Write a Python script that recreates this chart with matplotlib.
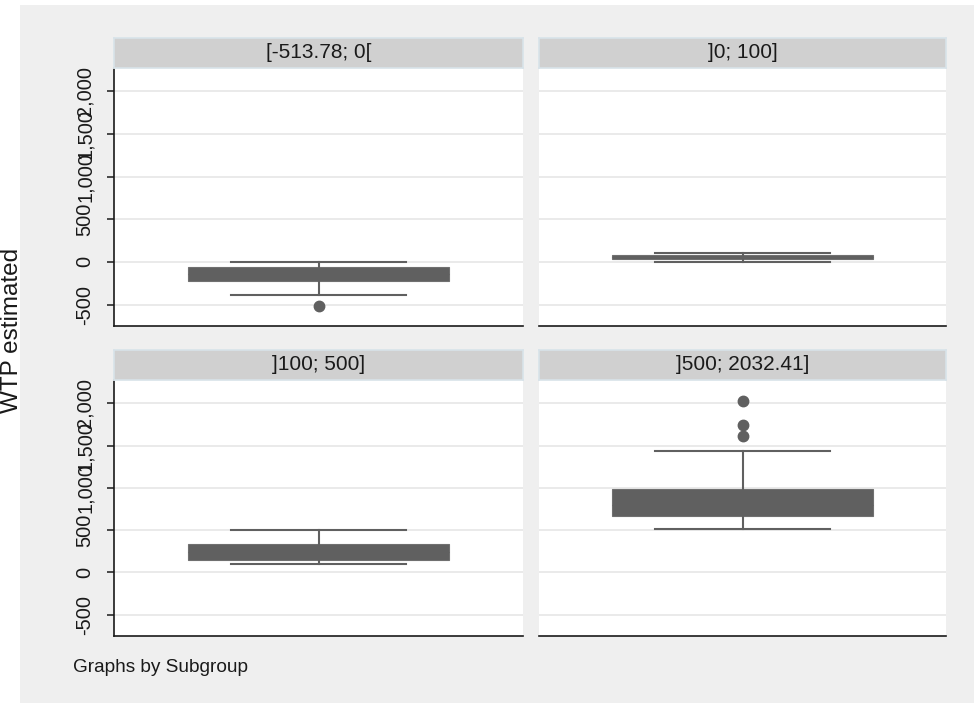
import matplotlib
matplotlib.use("Agg")
import matplotlib.pyplot as plt
from matplotlib.patches import Rectangle

plt.rcParams['font.family'] = ['Liberation Sans', 'DejaVu Sans']

# box plot summaries, one entry per subgroup
panel_titles = ['[-513.78; 0[', ']0; 100]', ']100; 500]', ']500; 2032.41]']
whisker_low = [-386, 1, 100, 508]
q1 = [-222, 38, 141, 661]
median = [-140, 55, 240, 800]
q3 = [-59, 80, 340, 990]
whisker_high = [-1, 99, 498, 1440]
outliers = [[-513.78], [], [], [1608, 1745, 2032.41]]

y_ticks = [-500, 0, 500, 1000, 1500, 2000]
y_tick_labels = ['-500', '0', '500', '1,000', '1,500', '2,000']

W, H = 974, 703
fig = plt.figure(figsize=(W / 100, H / 100), dpi=100, facecolor='white')

# grey background region (white strip left and top)
fig.patches.append(Rectangle((20 / W, 0), 1 - 20 / W, 1 - 5 / H,
                             transform=fig.transFigure, facecolor='#efefef',
                             edgecolor='none', zorder=-10))

box_col = '#606060'

# panel boxes in pixels: (x0, x1, y_top, y_bottom)
cols = [(114, 523), (539, 946)]
rows = [(68, 326), (380, 636)]

for i in range(4):
    r, c = divmod(i, 2)
    x0, x1 = cols[c]
    yt, yb = rows[r]
    ax = fig.add_axes([x0 / W, 1 - yb / H, (x1 - x0) / W, (yb - yt) / H])
    ax.set_facecolor('white')

    stats = [dict(whislo=whisker_low[i], q1=q1[i], med=median[i], q3=q3[i],
                  whishi=whisker_high[i], fliers=outliers[i])]
    ax.bxp(stats, positions=[0.5], widths=0.64, capwidths=0.43,
           patch_artist=True, showfliers=True,
           boxprops=dict(facecolor=box_col, edgecolor='#707070', linewidth=0.8),
           medianprops=dict(color=box_col, linewidth=0.8),
           whiskerprops=dict(color=box_col, linewidth=1.5),
           capprops=dict(color=box_col, linewidth=1.5),
           flierprops=dict(marker='o', markerfacecolor=box_col,
                           markeredgecolor=box_col, markersize=7.5))

    ax.set_xlim(0, 1)
    ax.set_ylim(-752, 2275)
    ax.set_xticks([])
    ax.set_yticks(y_ticks)
    ax.grid(axis='y', color='#e6e6e6', linewidth=1.2)
    ax.set_axisbelow(True)
    for s in ['top', 'right']:
        ax.spines[s].set_visible(False)
    ax.spines['bottom'].set_color('#1a1a1a')
    ax.spines['bottom'].set_linewidth(1.2)
    if c == 0:
        ax.spines['left'].set_color('#1a1a1a')
        ax.spines['left'].set_linewidth(1.2)
        ax.set_yticklabels(y_tick_labels)
        ax.tick_params(axis='y', length=5, width=1.1, color='#1a1a1a',
                       pad=9, labelsize=14.4, labelcolor='#1a1a1a')
        for lab in ax.get_yticklabels():
            lab.set_rotation(90)
            lab.set_va('center')
            lab.set_ha('right')
    else:
        ax.spines['left'].set_visible(False)
        ax.tick_params(axis='y', length=0, labelleft=False)

    # subgroup strip above the panel
    st = fig.add_axes([x0 / W, 1 - yt / H, (x1 - x0) / W, 30 / H])
    st.set_facecolor('#d0d0d0')
    st.set_xticks([])
    st.set_yticks([])
    for s in st.spines.values():
        s.set_color('#d8e3e9')
        s.set_linewidth(1.2)
    st.text(0.5, 0.5, panel_titles[i], ha='center', va='center',
            fontsize=15, color='#1a1a1a', transform=st.transAxes)

fig.text(18 / W, 1 - 330 / H, 'WTP estimated', rotation=90,
         rotation_mode='anchor', ha='center', va='baseline',
         fontsize=17.5, color='#1a1a1a')
fig.text(73 / W, 1 - 672 / H, 'Graphs by Subgroup', ha='left', va='baseline',
         fontsize=13.7, color='#1a1a1a')

fig.savefig('out.png', dpi=100, facecolor='white')
